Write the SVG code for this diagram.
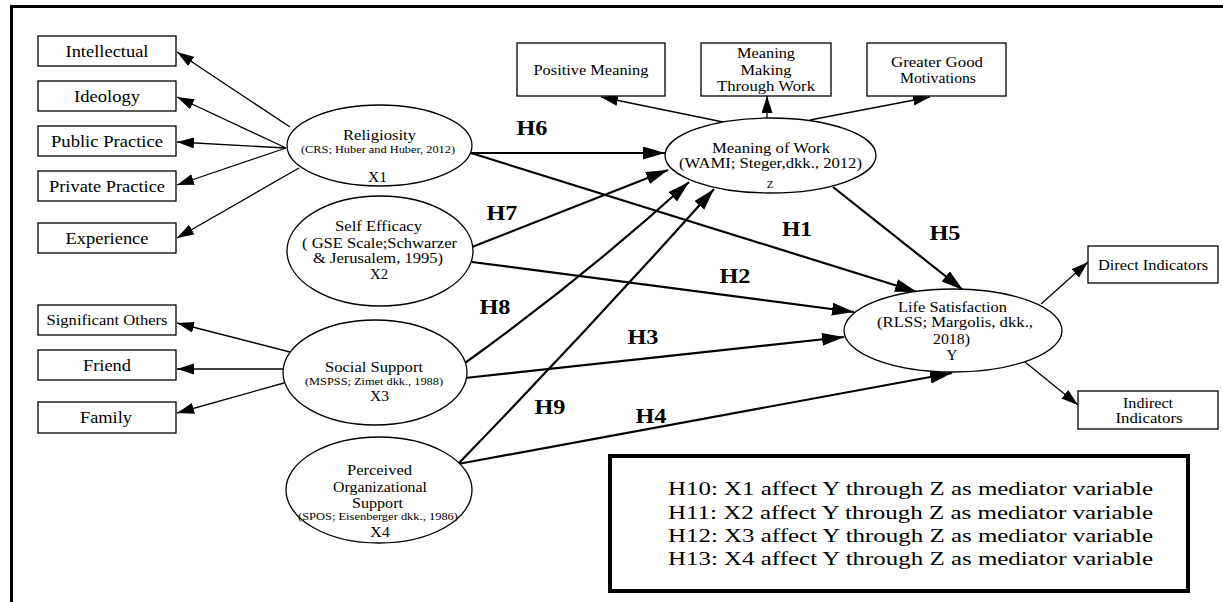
<svg xmlns="http://www.w3.org/2000/svg" width="1223" height="602" viewBox="0 0 1223 602">
<style>
text{font-family:"Liberation Serif","Times New Roman",serif;fill:#000;text-anchor:middle;dominant-baseline:central}
.box{fill:#fff;stroke:#000;stroke-width:1.3}
.ell{fill:#fff;stroke:#000;stroke-width:1.3}
.thin{fill:none;stroke:#000;stroke-width:1.3;marker-end:url(#ah)}
.thick{fill:none;stroke:#000;stroke-width:2.2;marker-end:url(#ahb)}
.lb{font-size:16.5px}
.sb{font-size:15px}
.em{font-size:15px}
.sm{font-size:11px}
.h{font-size:20px;font-weight:bold}
.lg{font-size:18px;text-anchor:start}
</style>
<defs>
<marker id="ah" markerUnits="userSpaceOnUse" markerWidth="18" markerHeight="12" refX="17" refY="5.5" orient="auto"><path d="M0,0 L17,5.5 L0,11 z" fill="#000"/></marker>
<marker id="ahb" markerUnits="userSpaceOnUse" markerWidth="23" markerHeight="14" refX="22" refY="6.5" orient="auto"><path d="M0,0 L22,6.5 L0,13 z" fill="#000"/></marker>
</defs>
<rect width="1223" height="602" fill="#fff"/>
<rect x="11.5" y="6.5" width="1240" height="620" fill="none" stroke="#000" stroke-width="3"/>

<g id="connectors">
<line class="thin" x1="290" y1="127" x2="177" y2="52"/>
<line class="thin" x1="286" y1="148" x2="177" y2="97"/>
<line class="thin" x1="286" y1="148" x2="177" y2="142"/>
<line class="thin" x1="286" y1="148" x2="177" y2="185"/>
<line class="thin" x1="299" y1="168" x2="177" y2="238"/>
<line class="thin" x1="290" y1="352" x2="177" y2="323"/>
<line class="thin" x1="283" y1="369" x2="177" y2="369"/>
<line class="thin" x1="284" y1="383" x2="177" y2="413"/>
<line class="thin" x1="723" y1="122" x2="601" y2="97"/>
<line class="thin" x1="767" y1="118" x2="767" y2="96"/>
<line class="thin" x1="810" y1="120" x2="930" y2="97"/>
<line class="thin" x1="1041" y1="304" x2="1088" y2="262"/>
<line class="thin" x1="1025" y1="362" x2="1078" y2="405"/>
<line class="thick" x1="471" y1="153" x2="665" y2="153"/>
<line class="thick" x1="471" y1="153" x2="917" y2="292"/>
<line class="thick" x1="472" y1="247" x2="668" y2="170"/>
<line class="thick" x1="472" y1="262" x2="854" y2="312"/>
<path class="thick" d="M465,363 Q582,279 689,182"/>
<line class="thick" x1="465" y1="378" x2="844" y2="337"/>
<path class="thick" d="M458,464 Q590,328 714,189"/>
<line class="thick" x1="458" y1="464" x2="952" y2="373"/>
<line class="thick" x1="833" y1="187" x2="963" y2="290"/>
</g>

<g id="labels">
<text class="h" x="532" y="128" textLength="31" lengthAdjust="spacingAndGlyphs">H6</text>
<text class="h" x="502" y="213" textLength="31" lengthAdjust="spacingAndGlyphs">H7</text>
<text class="h" x="797" y="229" textLength="30" lengthAdjust="spacingAndGlyphs">H1</text>
<text class="h" x="735" y="276" textLength="31" lengthAdjust="spacingAndGlyphs">H2</text>
<text class="h" x="945" y="233" textLength="31" lengthAdjust="spacingAndGlyphs">H5</text>
<text class="h" x="495" y="307" textLength="31" lengthAdjust="spacingAndGlyphs">H8</text>
<text class="h" x="643" y="337" textLength="31" lengthAdjust="spacingAndGlyphs">H3</text>
<text class="h" x="550" y="407" textLength="31" lengthAdjust="spacingAndGlyphs">H9</text>
<text class="h" x="651" y="416" textLength="31" lengthAdjust="spacingAndGlyphs">H4</text>
</g>

<g id="intellectual"><rect class="box" x="38" y="36" width="138" height="30"/><text class="lb" x="107" y="51" textLength="83" lengthAdjust="spacingAndGlyphs">Intellectual</text></g>
<g id="ideology"><rect class="box" x="38" y="81" width="138" height="30"/><text class="lb" x="107" y="96" textLength="66" lengthAdjust="spacingAndGlyphs">Ideology</text></g>
<g id="public-practice"><rect class="box" x="38" y="126" width="138" height="30"/><text class="lb" x="107" y="141" textLength="112" lengthAdjust="spacingAndGlyphs">Public Practice</text></g>
<g id="private-practice"><rect class="box" x="38" y="171" width="138" height="30"/><text class="lb" x="107" y="186" textLength="116" lengthAdjust="spacingAndGlyphs">Private Practice</text></g>
<g id="experience"><rect class="box" x="38" y="223" width="138" height="30"/><text class="lb" x="107" y="238" textLength="83" lengthAdjust="spacingAndGlyphs">Experience</text></g>
<g id="significant-others"><rect class="box" x="38" y="305" width="138" height="30"/><text class="sb" x="107" y="320" textLength="121" lengthAdjust="spacingAndGlyphs">Significant Others</text></g>
<g id="friend"><rect class="box" x="38" y="350" width="138" height="30"/><text class="lb" x="107" y="365" textLength="48" lengthAdjust="spacingAndGlyphs">Friend</text></g>
<g id="family"><rect class="box" x="38" y="402" width="138" height="31"/><text class="lb" x="106" y="417" textLength="52" lengthAdjust="spacingAndGlyphs">Family</text></g>

<g id="positive-meaning"><rect class="box" x="517" y="43" width="148" height="53"/><text class="sb" x="591" y="70" textLength="115" lengthAdjust="spacingAndGlyphs">Positive Meaning</text></g>
<g id="meaning-making"><rect class="box" x="701" y="43" width="130" height="53"/><text class="sb" x="766" y="53" textLength="58" lengthAdjust="spacingAndGlyphs">Meaning</text><text class="sb" x="766" y="70" textLength="51" lengthAdjust="spacingAndGlyphs">Making</text><text class="sb" x="766" y="86" textLength="98" lengthAdjust="spacingAndGlyphs">Through Work</text></g>
<g id="greater-good"><rect class="box" x="867" y="43" width="139" height="53"/><text class="sb" x="937" y="62" textLength="92" lengthAdjust="spacingAndGlyphs">Greater Good</text><text class="sb" x="938" y="78" textLength="76" lengthAdjust="spacingAndGlyphs">Motivations</text></g>
<g id="direct-indicators"><rect class="box" x="1088" y="246" width="130" height="37"/><text class="sb" x="1153" y="265" textLength="110" lengthAdjust="spacingAndGlyphs">Direct Indicators</text></g>
<g id="indirect-indicators"><rect class="box" x="1078" y="391" width="140" height="38"/><text class="sb" x="1148" y="403" textLength="50" lengthAdjust="spacingAndGlyphs">Indirect</text><text class="sb" x="1149" y="418" textLength="67" lengthAdjust="spacingAndGlyphs">Indicators</text></g>

<g id="religiosity"><ellipse class="ell" cx="379.5" cy="145.5" rx="92.5" ry="40.5"/><text class="em" x="379.5" y="135" textLength="73" lengthAdjust="spacingAndGlyphs">Religiosity</text><text class="sm" x="378" y="149" textLength="154" lengthAdjust="spacingAndGlyphs">(CRS; Huber and Huber, 2012)</text><text class="em" x="377.5" y="177" textLength="19" lengthAdjust="spacingAndGlyphs">X1</text></g>
<g id="self-efficacy"><ellipse class="ell" cx="380" cy="251" rx="93" ry="55"/><text class="em" x="378.5" y="226" textLength="87" lengthAdjust="spacingAndGlyphs">Self Efficacy</text><text class="em" x="379.5" y="243" textLength="155" lengthAdjust="spacingAndGlyphs">( GSE Scale;Schwarzer</text><text class="em" x="378" y="258" textLength="130" lengthAdjust="spacingAndGlyphs">&amp; Jerusalem, 1995)</text><text class="em" x="379" y="274" textLength="18" lengthAdjust="spacingAndGlyphs">X2</text></g>
<g id="social-support"><ellipse class="ell" cx="375" cy="372.5" rx="92" ry="52.5"/><text class="em" x="374" y="367" textLength="98" lengthAdjust="spacingAndGlyphs">Social Support</text><text class="sm" x="374" y="381" textLength="138" lengthAdjust="spacingAndGlyphs">(MSPSS; Zimet dkk., 1988)</text><text class="em" x="379.5" y="396" textLength="19" lengthAdjust="spacingAndGlyphs">X3</text></g>
<g id="perceived-organizational-support"><ellipse class="ell" cx="379" cy="490" rx="93" ry="53"/><text class="em" x="379.5" y="470" textLength="65" lengthAdjust="spacingAndGlyphs">Perceived</text><text class="em" x="380" y="487" textLength="94" lengthAdjust="spacingAndGlyphs">Organizational</text><text class="em" x="377.5" y="503" textLength="51" lengthAdjust="spacingAndGlyphs">Support</text><text class="sm" x="378" y="516" textLength="160" lengthAdjust="spacingAndGlyphs">(SPOS; Eisenberger dkk., 1986)</text><text class="em" x="380" y="532" textLength="20" lengthAdjust="spacingAndGlyphs">X4</text></g>
<g id="meaning-of-work"><ellipse class="ell" cx="770.5" cy="155.5" rx="105.5" ry="37.5"/><text class="em" x="771" y="148" textLength="118" lengthAdjust="spacingAndGlyphs">Meaning of Work</text><text class="em" x="770.5" y="163" textLength="183" lengthAdjust="spacingAndGlyphs">(WAMI; Steger,dkk., 2012)</text><text class="sm" x="770" y="184">Z</text></g>
<g id="life-satisfaction"><ellipse class="ell" cx="953" cy="330.5" rx="109" ry="41.5"/><text class="em" x="952.5" y="307" textLength="109" lengthAdjust="spacingAndGlyphs">Life Satisfaction</text><text class="em" x="955" y="322" textLength="156" lengthAdjust="spacingAndGlyphs">(RLSS; Margolis, dkk.,</text><text class="em" x="951.5" y="339" textLength="37" lengthAdjust="spacingAndGlyphs">2018)</text><text class="em" x="952" y="355">Y</text></g>

<g id="legend"><rect x="610" y="456" width="578" height="135" fill="#fff" stroke="#000" stroke-width="4"/>
<text class="lg" x="668" y="489" textLength="485" lengthAdjust="spacingAndGlyphs">H10: X1 affect Y through Z as mediator variable</text>
<text class="lg" x="668" y="513" textLength="485" lengthAdjust="spacingAndGlyphs">H11: X2 affect Y through Z as mediator variable</text>
<text class="lg" x="668" y="536" textLength="485" lengthAdjust="spacingAndGlyphs">H12: X3 affect Y through Z as mediator variable</text>
<text class="lg" x="668" y="559" textLength="485" lengthAdjust="spacingAndGlyphs">H13: X4 affect Y through Z as mediator variable</text>
</g>
</svg>
